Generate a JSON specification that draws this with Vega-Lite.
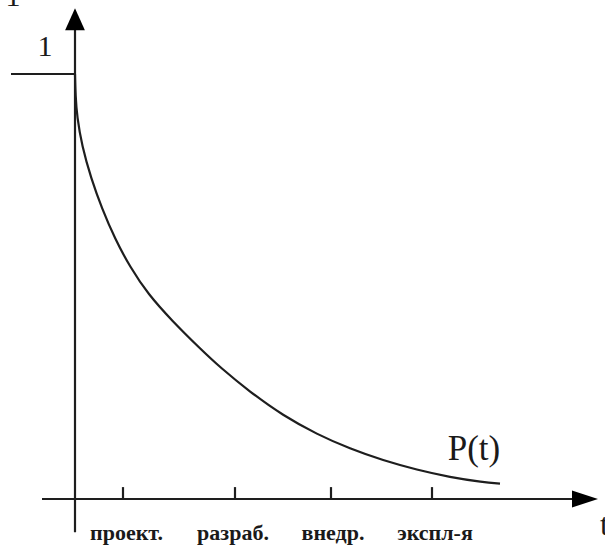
{
  "$schema": "https://vega.github.io/schema/vega-lite/v6.json",
  "width": 605,
  "height": 545,
  "padding": 0,
  "autosize": {"type": "none"},
  "background": "white",
  "config": {"view": {"stroke": null}},
  "datasets": {
    "curve": [
      {"t": 0.0, "P": 1.0},
      {"t": 0.005, "P": 0.95},
      {"t": 0.02, "P": 0.9},
      {"t": 0.07, "P": 0.83},
      {"t": 0.16, "P": 0.755},
      {"t": 0.27, "P": 0.683},
      {"t": 0.4, "P": 0.612},
      {"t": 0.55, "P": 0.546},
      {"t": 0.73, "P": 0.482},
      {"t": 0.97, "P": 0.4194},
      {"t": 1.25, "P": 0.3541},
      {"t": 1.45, "P": 0.3099},
      {"t": 1.75, "P": 0.2518},
      {"t": 2.08, "P": 0.1962},
      {"t": 2.42, "P": 0.1522},
      {"t": 2.75, "P": 0.1181},
      {"t": 3.08, "P": 0.0908},
      {"t": 3.42, "P": 0.0685},
      {"t": 3.75, "P": 0.0513},
      {"t": 4.08, "P": 0.0395},
      {"t": 4.25, "P": 0.0362}
    ],
    "rules": [
      {"t": 0, "t2": 0, "P": -0.078, "P2": 1.104},
      {"t": -0.33, "t2": 5.0, "P": 0, "P2": 0},
      {"t": -0.64, "t2": 0, "P": 1.0, "P2": 1.0},
      {"t": 0.48, "t2": 0.48, "P": 0, "P2": 0.028},
      {"t": 1.6, "t2": 1.6, "P": 0, "P2": 0.028},
      {"t": 2.56, "t2": 2.56, "P": 0, "P2": 0.028},
      {"t": 3.57, "t2": 3.57, "P": 0, "P2": 0.028}
    ],
    "labels": [
      {"t": 0.515, "P": -0.0965, "label": "проект."},
      {"t": 1.58, "P": -0.0965, "label": "разраб."},
      {"t": 2.58, "P": -0.0965, "label": "внедр."},
      {"t": 3.6, "P": -0.0965, "label": "экспл-я"}
    ],
    "ones": [
      {"t": -0.3, "P": 1.042, "label": "1"},
      {"t": -0.62, "P": 1.16, "label": "1"}
    ],
    "ptext": [{"t": 3.99, "P": 0.092, "label": "P(t)"}],
    "ttext": [{"t": 5.25, "P": -0.085, "label": "t"}]
  },
  "encoding": {
    "x": {"field": "t", "type": "quantitative", "axis": null,
          "scale": {"domain": [-0.75, 5.3], "nice": false, "zero": false}},
    "y": {"field": "P", "type": "quantitative", "axis": null,
          "scale": {"domain": [-0.10824, 1.17412], "nice": false, "zero": false}}
  },
  "layer": [
    {
      "data": {"name": "rules"},
      "mark": {"type": "rule", "color": "#1e1e1e", "strokeWidth": 2.2},
      "encoding": {"x2": {"field": "t2"}, "y2": {"field": "P2"}}
    },
    {
      "data": {"name": "curve"},
      "mark": {"type": "line", "color": "#1e1e1e", "strokeWidth": 2.2, "interpolate": "basis"},
      "encoding": {"order": {"field": "t", "type": "quantitative"}}
    },
    {
      "data": {"values": [{"t": 0, "P": 1.129}]},
      "mark": {"type": "point", "shape": "M0,-1L-0.9,1L0.9,1Z", "size": 484, "filled": true, "color": "#000000", "opacity": 1}
    },
    {
      "data": {"values": [{"t": 5.1, "P": 0.0}]},
      "mark": {"type": "point", "shape": "M1,0L-1,-0.65L-1,0.65Z", "size": 676, "filled": true, "color": "#000000", "opacity": 1}
    },
    {
      "data": {"name": "labels"},
      "mark": {"type": "text", "font": "Liberation Serif", "fontSize": 22, "fontWeight": "bold", "color": "#1a1a1a", "align": "center", "baseline": "alphabetic"},
      "encoding": {"text": {"field": "label"}}
    },
    {
      "data": {"name": "ones"},
      "mark": {"type": "text", "font": "Liberation Serif", "fontSize": 30, "color": "#1a1a1a", "align": "center", "baseline": "alphabetic"},
      "encoding": {"text": {"field": "label"}}
    },
    {
      "data": {"name": "ptext"},
      "mark": {"type": "text", "font": "Liberation Serif", "fontSize": 35, "color": "#1a1a1a", "align": "center", "baseline": "alphabetic"},
      "encoding": {"text": {"field": "label"}}
    },
    {
      "data": {"name": "ttext"},
      "mark": {"type": "text", "font": "Liberation Serif", "fontSize": 32, "color": "#1a1a1a", "align": "left", "baseline": "alphabetic"},
      "encoding": {"text": {"field": "label"}}
    }
  ]
}
